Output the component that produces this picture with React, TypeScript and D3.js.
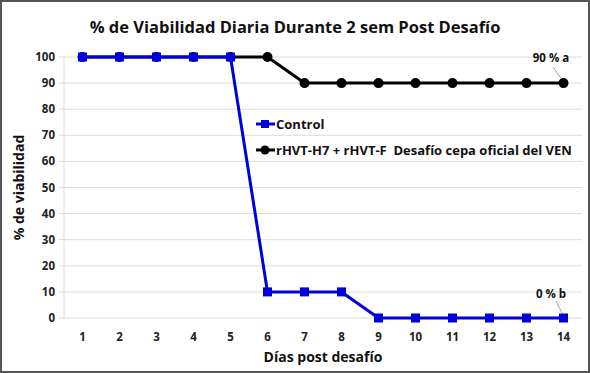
import React from "react";
import * as d3 from "d3";

const days = [1, 2, 3, 4, 5, 6, 7, 8, 9, 10, 11, 12, 13, 14];
const controlValues = [100, 100, 100, 100, 100, 10, 10, 10, 0, 0, 0, 0, 0, 0];
const vaccineValues = [100, 100, 100, 100, 100, 100, 90, 90, 90, 90, 90, 90, 90, 90];
const yTicks = [0, 10, 20, 30, 40, 50, 60, 70, 80, 90, 100];
const seriesNames = ["Control", "rHVT-H7 + rHVT-F\u00a0\u00a0Desafío cepa oficial del VEN"];
const endLabels = ["0 % b", "90 % a"];

const W = 590;
const H = 373;
const left = 64;
const right = 582;
const top = 57;
const bottom = 318;
const FONT = "Open Sans, Liberation Sans, sans-serif";

export default function App() {
  const x = d3.scalePoint<number>().domain(days).range([left, right]).padding(0.5);
  const y = d3.scaleLinear().domain([0, 100]).range([bottom, top]);
  const line = d3
    .line<number>()
    .x((_, i) => x(days[i]) as number)
    .y((v) => y(v));
  const blue = "#0000dd";
  const lastX = x(days[days.length - 1]) as number;

  return (
    <svg
      width={W}
      height={H}
      style={{ position: "absolute", left: 0, top: 0, background: "#fff" }}
      fontFamily={FONT}
    >
      <rect x={1} y={1} width={W - 2} height={H - 2} fill="#fff" stroke="#555" strokeWidth={2} />
      <text x={295} y={33} textAnchor="middle" fontSize={16.5} fontWeight="bold" fill="#111">
        % de Viabilidad Diaria Durante 2 sem Post Desafío
      </text>
      {yTicks.map((t) => (
        <g key={t}>
          <line x1={59} x2={right} y1={y(t)} y2={y(t)} stroke="#dcdcdc" strokeWidth={1} />
          <text x={55} y={y(t) + 4} textAnchor="end" fontSize={11.5} fontWeight="bold" fill="#222">
            {t}
          </text>
        </g>
      ))}
      <line x1={left} x2={left} y1={top} y2={bottom} stroke="#dcdcdc" />
      {days.map((d) => (
        <text key={d} x={x(d) as number} y={341} textAnchor="middle" fontSize={11.5} fontWeight="bold" fill="#222">
          {d}
        </text>
      ))}
      <text x={323} y={362} textAnchor="middle" fontSize={14} fontWeight="bold" fill="#111">
        Días post desafío
      </text>
      <text
        transform={`translate(24,${(top + bottom) / 2}) rotate(-90)`}
        textAnchor="middle"
        fontSize={14}
        fontWeight="bold"
        fill="#111"
      >
        % de viabilidad
      </text>

      <path d={line(vaccineValues) || ""} fill="none" stroke="#000" strokeWidth={3} />
      {vaccineValues.map((v, i) => (
        <circle key={i} cx={x(days[i]) as number} cy={y(v)} r={5} fill="#000" />
      ))}
      <path d={line(controlValues) || ""} fill="none" stroke={blue} strokeWidth={3} />
      {controlValues.map((v, i) => (
        <rect key={i} x={(x(days[i]) as number) - 4.5} y={y(v) - 4.5} width={9} height={9} fill={blue} />
      ))}

      {/* legend */}
      <line x1={256} x2={275} y1={124} y2={124} stroke={blue} strokeWidth={3} />
      <rect x={261} y={120} width={8} height={8} fill={blue} />
      <text x={276} y={129} fontSize={13} fontWeight="bold" fill="#111">
        {seriesNames[0]}
      </text>
      <line x1={256} x2={275} y1={150} y2={150} stroke="#000" strokeWidth={3} />
      <circle cx={265} cy={150} r={4.5} fill="#000" />
      <text x={276} y={155} fontSize={13} fontWeight="bold" fill="#111">
        {seriesNames[1]}
      </text>

      {/* end labels */}
      <text x={551} y={62} textAnchor="middle" fontSize={11.5} fontWeight="bold" fill="#111">
        {endLabels[1]}
      </text>
      <line x1={553} y1={67} x2={lastX - 2} y2={y(vaccineValues[13]) - 4} stroke="#888" strokeWidth={0.8} />
      <text x={551} y={298} textAnchor="middle" fontSize={11.5} fontWeight="bold" fill="#111">
        {endLabels[0]}
      </text>
      <line x1={556} y1={301} x2={lastX - 1} y2={y(controlValues[13]) - 4} stroke="#888" strokeWidth={0.8} />
    </svg>
  );
}
